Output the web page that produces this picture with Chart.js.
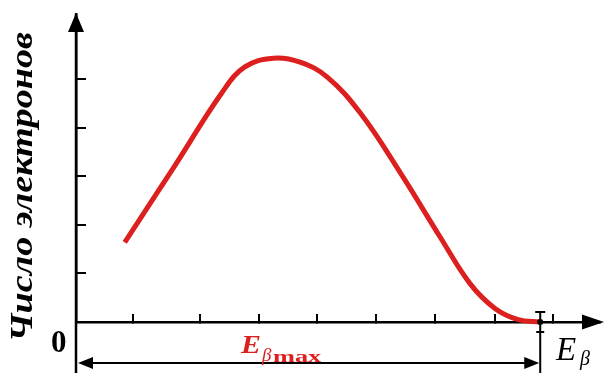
<!DOCTYPE html>
<html>
<head>
<meta charset="utf-8">
<script src="https://cdn.jsdelivr.net/npm/chart.js@4/dist/chart.umd.min.js"></script>
<style>
    html, body { margin: 0; padding: 0; background: #fff; }
    #wrap { width: 605px; height: 373px; position: relative; }
</style>
</head>
<body>
<div id="wrap"><canvas id="spectrum"></canvas></div>
<script>
// Бета-спектр: энергия (усл. ед.) и число электронов (усл. ед.)
const energy = [0.84, 1.71, 2.52, 2.91, 3.40, 3.86, 4.33, 4.90, 5.59, 6.28, 6.79, 7.22, 7.62, 8.00];
const electrons = [1.64, 3.23, 4.73, 5.25, 5.43, 5.35, 5.04, 4.30, 3.07, 1.74, 0.79, 0.28, 0.05, 0.0];
const xTicks = [0.98, 2.14, 3.16, 4.16, 5.17, 6.19, 7.22, 8.22];
const yTicks = [1, 2, 3, 4, 5];
const eMax = 8.0;
const xMax = 9.03;
const yMax = 6.34;

const RED = '#dc1f1f';
const SERIF = '"Liberation Serif", "DejaVu Serif", serif';

function arrowHead(ctx, x, y, dir, len, half) {
    // dir: 'up' | 'right' | 'left'
    ctx.beginPath();
    if (dir === 'up') {
        ctx.moveTo(x, y); ctx.lineTo(x - half, y + len); ctx.lineTo(x + half, y + len);
    } else if (dir === 'right') {
        ctx.moveTo(x, y); ctx.lineTo(x - len, y - half); ctx.lineTo(x - len, y + half);
    } else {
        ctx.moveTo(x, y); ctx.lineTo(x + len, y - half); ctx.lineTo(x + len, y + half);
    }
    ctx.closePath();
    ctx.fill();
}

// текст с растяжением по горизонтали (sx)
function stretchedText(ctx, text, x, y, font, sx) {
    ctx.save();
    ctx.font = font;
    ctx.translate(x, y);
    ctx.scale(sx, 1);
    ctx.fillText(text, 0, 0);
    ctx.restore();
}

// Стрелки осей, размерная линия E_βmax и подписи
const decorations = {
    id: 'decorations',
    afterDraw(chart) {
        const ctx = chart.ctx;
        const xs = chart.scales.x;
        const ys = chart.scales.y;
        const x0 = xs.getPixelForValue(0);
        const y0 = ys.getPixelForValue(0);
        const xE = xs.getPixelForValue(eMax);
        const w = chart.width, h = chart.height;

        ctx.save();
        ctx.strokeStyle = '#000';
        ctx.fillStyle = '#000';
        ctx.lineWidth = 2.5;

        // продолжение осей
        ctx.beginPath();
        ctx.moveTo(x0, ys.getPixelForValue(yMax));
        ctx.lineTo(x0, h);
        ctx.moveTo(xs.getPixelForValue(xMax) - 1, y0);
        ctx.lineTo(w - 12, y0);
        ctx.stroke();
        arrowHead(ctx, x0, ys.getPixelForValue(yMax) - 1, 'up', 19, 8);
        arrowHead(ctx, w - 1, y0, 'right', 22, 7.5);

        // отметка E_βmax
        ctx.lineWidth = 2;
        ctx.beginPath();
        ctx.moveTo(xE, y0 - 10);
        ctx.lineTo(xE, h);
        ctx.moveTo(xE - 5, y0 - 10); ctx.lineTo(xE + 5, y0 - 10);
        ctx.moveTo(xE - 4, y0 + 10); ctx.lineTo(xE + 4, y0 + 10);
        ctx.stroke();
        ctx.beginPath();
        ctx.arc(xE, y0, 3, 0, Math.PI * 2);
        ctx.fill();

        // размерная линия
        const yd = 363;
        ctx.lineWidth = 2;
        ctx.beginPath();
        ctx.moveTo(x0 + 10, yd);
        ctx.lineTo(xE - 10, yd);
        ctx.stroke();
        arrowHead(ctx, x0 + 2, yd, 'left', 15, 6);
        arrowHead(ctx, xE - 1, yd, 'right', 15, 6);

        ctx.textBaseline = 'alphabetic';
        ctx.textAlign = 'left';

        // "0"
        stretchedText(ctx, '0', 51, 352, 'bold 31px ' + SERIF, 1.0);

        // E_β
        stretchedText(ctx, 'E', 556, 360, 'italic 33px ' + SERIF, 1.0);
        stretchedText(ctx, 'β', 580, 365, 'italic 20px ' + SERIF, 1.0);

        // E_βmax
        ctx.fillStyle = RED;
        stretchedText(ctx, 'E', 241, 353, 'bold italic 26px ' + SERIF, 1.15);
        stretchedText(ctx, 'β', 262, 361, 'italic 19px ' + SERIF, 1.0);
        stretchedText(ctx, 'max', 273, 362, 'bold 17px ' + SERIF, 1.55);

        // подпись оси Y
        ctx.fillStyle = '#000';
        ctx.translate(24, 187);
        ctx.rotate(-Math.PI / 2);
        ctx.textAlign = 'center';
        ctx.textBaseline = 'middle';
        ctx.font = 'bold italic 31px ' + SERIF;
        const title = 'Число электронов';
        ctx.scale(310 / ctx.measureText(title).width, 1);
        ctx.fillText(title, 0, 0);
        ctx.restore();
    }
};

function buildChart() {
    const canvas = document.getElementById('spectrum');
    return new Chart(canvas.getContext('2d'), {
        type: 'line',
        data: {
            datasets: [{
                data: energy.map((e, i) => ({ x: e, y: electrons[i] })),
                borderColor: RED,
                borderWidth: 5,
                pointRadius: 0,
                tension: 0.4,
                borderCapStyle: 'butt',
                clip: false,
                fill: false
            }]
        },
        options: {
            responsive: true,
            maintainAspectRatio: false,
            animation: false,
            layout: { padding: { top: 14, right: 5, left: 0, bottom: 0 } },
            plugins: { legend: { display: false }, tooltip: { enabled: false } },
            scales: {
                x: {
                    type: 'linear',
                    min: 0,
                    max: xMax,
                    afterBuildTicks: s => { s.ticks = xTicks.map(v => ({ value: v })); },
                    afterFit: s => { s.height = 51; },
                    ticks: { display: false },
                    grid: { drawOnChartArea: false, tickLength: -8, lineWidth: 2, color: '#000' },
                    border: { display: true, color: '#000', width: 2.5 }
                },
                y: {
                    type: 'linear',
                    min: 0,
                    max: yMax,
                    afterBuildTicks: s => { s.ticks = yTicks.map(v => ({ value: v })); },
                    afterFit: s => { s.width = 76; },
                    ticks: { display: false },
                    grid: { drawOnChartArea: false, tickLength: -10, lineWidth: 2, color: '#000' },
                    border: { display: true, color: '#000', width: 2.5 }
                }
            }
        },
        plugins: [decorations]
    });
}

document.addEventListener('DOMContentLoaded', buildChart);
</script>
</body>
</html>
